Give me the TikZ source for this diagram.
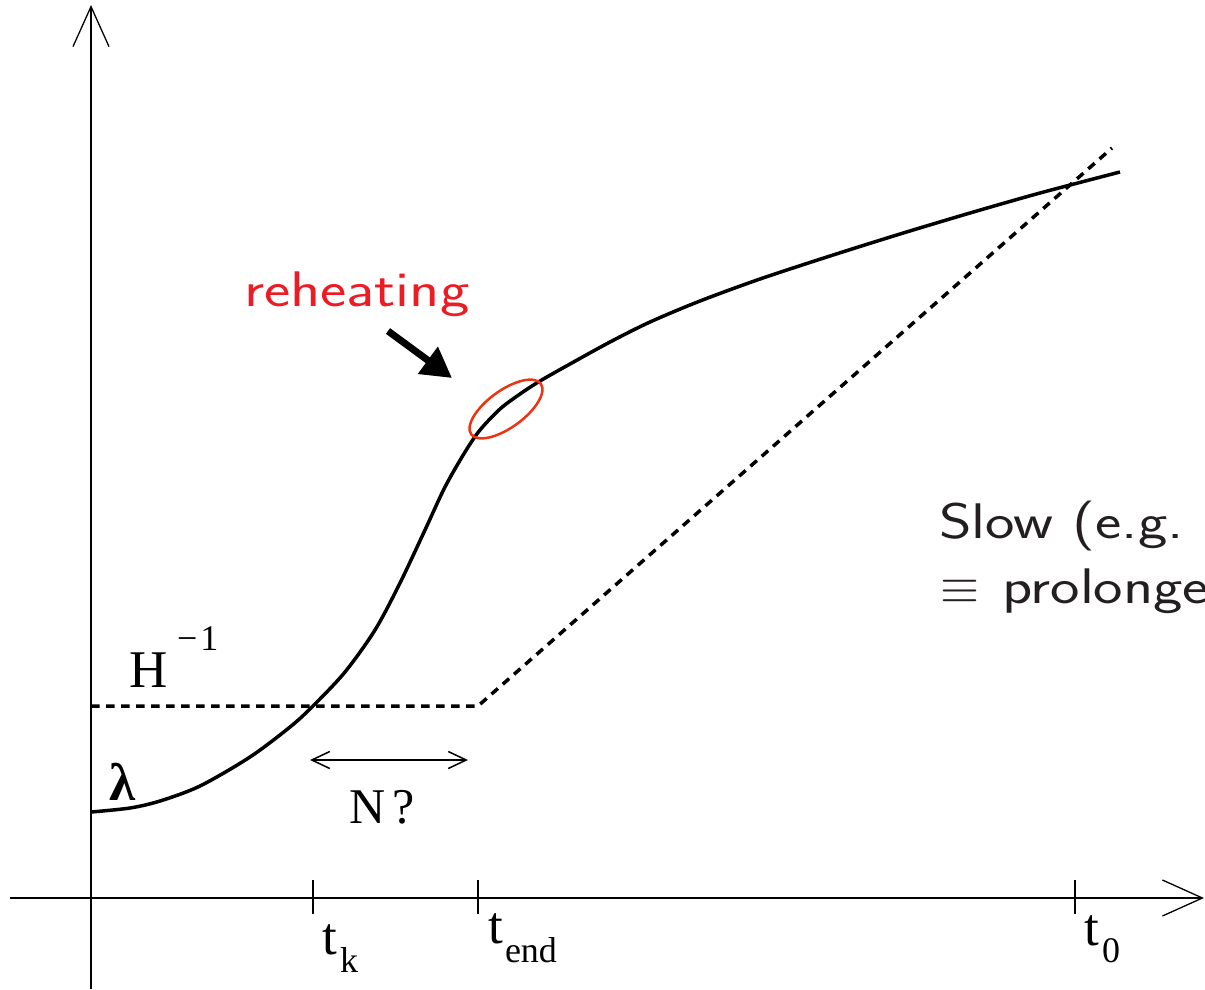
\documentclass[tikz,border=0pt]{standalone}
\usepackage{fontspec}
\setmainfont{Liberation Serif}
\setsansfont{Latin Modern Sans}
\usetikzlibrary{arrows.meta,shapes.geometric}
\definecolor{rhred}{RGB}{237,28,36}
\definecolor{elred}{RGB}{240,50,20}
\definecolor{slgray}{RGB}{35,31,32}
\begin{document}
\begin{tikzpicture}[x=1pt,y=-1pt,
  axis/.style={line width=1.3pt},
  axtip/.style={-{Straight Barb[length=40pt,width=36pt,line width=1.3pt]}},
  tick/.style={line width=1.3pt},
  curve/.style={line width=3.5pt},
  dashline/.style={line width=3.5pt,dash pattern=on 8.5pt off 6.5pt},
  lbl/.style={anchor=base west,inner sep=0pt,outer sep=0pt},
  serif/.style={font=\fontsize{53}{60}\selectfont},
  subf/.style={font=\fontsize{36}{42}\selectfont},
  sansf/.style={font=\sffamily\fontsize{50}{58}\selectfont},
]
\useasboundingbox (0,0) rectangle (1205,989);
\clip (0,0) rectangle (1205,989);
% axes
\coordinate (yb) at (91,989);
\coordinate (yt) at (91,5);
\coordinate (xl) at (10,898);
\coordinate (xr) at (1204,898);
\draw[axis,axtip] (yb) -- (yt);
\draw[axis,axtip] (xl) -- (xr);
% ticks
\coordinate (tk1) at (313,880); \coordinate (tk2) at (313,914);
\coordinate (te1) at (478,880); \coordinate (te2) at (478,914);
\coordinate (to1) at (1075,880); \coordinate (to2) at (1075,914);
\draw[tick] (tk1) -- (tk2);
\draw[tick] (te1) -- (te2);
\draw[tick] (to1) -- (to2);
% tick labels
\node[lbl,serif] (tkt) at (322,954) {t};
\node[lbl,subf] (tks) at (340,972) {k};
\node[lbl,serif] (tet) at (488,943) {t};
\node[lbl,subf] (tes) at (505,962) {end};
\node[lbl,serif] (tot) at (1084,945) {t};
\node[lbl,subf] (tos) at (1102,962) {0};
% dashed H^-1
\coordinate (h0) at (91,706);
\coordinate (h1) at (478,706);
\coordinate (h2) at (1112,148);
\draw[dashline] (h0) -- (h1) -- (h2);
% curve
\draw[curve] plot[smooth,tension=0.5] coordinates{
 (91,812) (130,808) (160,801) (200,786) (250,757) (290,727) (313,706)
 (345,672) (375,630) (400,583) (425,530) (445,487) (465,452) (480,430)
 (500,409) (520,394) (540,381) (570,364) (610,342) (650,322) (700,301)
 (760,279) (830,256) (900,234) (970,213) (1040,193) (1120,172)};
% labels
\node[lbl,serif] (H) at (129,687) {H};
\node[lbl,subf] (Hexp) at (177,650) {−\kern3pt 1};
\node[lbl,serif,font=\bfseries\fontsize{53}{60}\selectfont] (lam) at (109,800) {λ};
\node[lbl,serif,font=\fontsize{50}{56}\selectfont] (N) at (349,823) {N\kern7pt?};
% N arrow
\coordinate (na) at (310,760);
\coordinate (nb) at (468,760);
\draw[line width=1.5pt,{Straight Barb[length=18pt,width=17pt,line width=1.5pt]}-{Straight Barb[length=18pt,width=17pt,line width=1.5pt]}] (na) -- (nb);
% reheating
\node[lbl,sansf,text=rhred] (reh) at (244,306) {\scalebox{1.25}[1]{reheating}};
\coordinate (ra) at (388,331);
\coordinate (rb) at (452,378);
\draw[line width=7pt,-{Triangle[length=30pt,width=32pt]}] (ra) -- (rb);
\node[ellipse,draw=elred,line width=2.5pt,minimum width=86pt,minimum height=37pt,inner sep=0pt,rotate=36] (ell) at (506,409) {};
% slow text
\node[lbl,sansf,text=slgray] (slow1) at (939,538) {\scalebox{1.25}[1]{Slow (e.g.}};
\node[lbl,text=slgray] (eqv) at (940,603) {\resizebox{39pt}{!}{$\equiv$}};
\node[lbl,sansf,text=slgray] (slow2) at (1002,603) {\scalebox{1.25}[1]{prolonge}};
\end{tikzpicture}
\end{document}
